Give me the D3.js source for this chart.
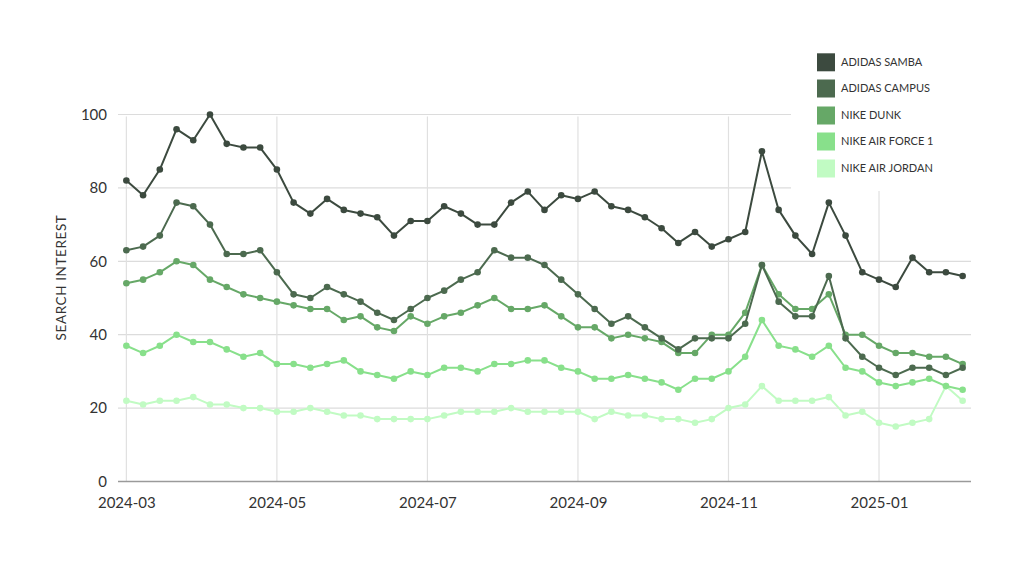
<!DOCTYPE html>
<html>
<head>
<meta charset="utf-8">
<script src="https://cdn.jsdelivr.net/npm/d3@7"></script>
<style>
  html, body { margin: 0; padding: 0; background: #fff; }
  svg { display: block; font-family: Lato, "Open Sans", sans-serif; }
</style>
</head>
<body>
<svg id="chart" width="1024" height="576"></svg>
<script>
const dates = ["2024-03-03","2024-03-10","2024-03-17","2024-03-24","2024-03-31","2024-04-07","2024-04-14","2024-04-21","2024-04-28",
  "2024-05-05","2024-05-12","2024-05-19","2024-05-26","2024-06-02","2024-06-09","2024-06-16","2024-06-23","2024-06-30",
  "2024-07-07","2024-07-14","2024-07-21","2024-07-28","2024-08-04","2024-08-11","2024-08-18","2024-08-25","2024-09-01",
  "2024-09-08","2024-09-15","2024-09-22","2024-09-29","2024-10-06","2024-10-13","2024-10-20","2024-10-27","2024-11-03",
  "2024-11-10","2024-11-17","2024-11-24","2024-12-01","2024-12-08","2024-12-15","2024-12-22","2024-12-29","2025-01-05",
  "2025-01-12","2025-01-19","2025-01-26","2025-02-02","2025-02-09","2025-02-16"];

const seriesNames = ["ADIDAS SAMBA","ADIDAS CAMPUS","NIKE DUNK","NIKE AIR FORCE 1","NIKE AIR JORDAN"];
const seriesColors = ["#3c4a3f","#4c6a4f","#66a867","#88e08b","#c1fbc3"];

const adidasSamba = [82,78,85,96,93,100,92,91,91,85,76,73,77,74,73,72,67,71,71,75,73,70,70,76,79,74,78,77,79,75,74,72,69,65,68,64,66,68,90,74,67,62,76,67,57,55,53,61,57,57,56];
const adidasCampus = [63,64,67,76,75,70,62,62,63,57,51,50,53,51,49,46,44,47,50,52,55,57,63,61,61,59,55,51,47,43,45,42,39,36,39,39,39,43,59,49,45,45,56,39,34,31,29,31,31,29,31];
const nikeDunk = [54,55,57,60,59,55,53,51,50,49,48,47,47,44,45,42,41,45,43,45,46,48,50,47,47,48,45,42,42,39,40,39,38,35,35,40,40,46,59,51,47,47,51,40,40,37,35,35,34,34,32];
const nikeAirForce1 = [37,35,37,40,38,38,36,34,35,32,32,31,32,33,30,29,28,30,29,31,31,30,32,32,33,33,31,30,28,28,29,28,27,25,28,28,30,34,44,37,36,34,37,31,30,27,26,27,28,26,25];
const nikeAirJordan = [22,21,22,22,23,21,21,20,20,19,19,20,19,18,18,17,17,17,17,18,19,19,19,20,19,19,19,19,17,19,18,18,17,17,16,17,20,21,26,22,22,22,23,18,19,16,15,16,17,26,22];

const seriesValues = [adidasSamba, adidasCampus, nikeDunk, nikeAirForce1, nikeAirJordan];
const xTickDates = ["2024-03-03","2024-05-05","2024-07-07","2024-09-08","2024-11-10","2025-01-12"];
const xTickLabels = ["2024-03","2024-05","2024-07","2024-09","2024-11","2025-01"];
const yTicks = [0,20,40,60,80,100];
const yTitle = "SEARCH INTEREST";

(function () {
const svg = d3.select("#chart");
const pLeft = 118, pRight = 971, pTop = 114.5, pBottom = 481.5;

const x = d3.scalePoint().domain(dates).range([pLeft, pRight]).padding(0.5);
const y = d3.scaleLinear().domain([0, 100]).range([pBottom, pTop]);

// horizontal grid
svg.append("g").selectAll("line").data(yTicks.filter(d => d > 0)).join("line")
  .attr("x1", pLeft).attr("x2", pRight)
  .attr("y1", d => y(d)).attr("y2", d => y(d))
  .attr("stroke", "#dcdcdc").attr("stroke-width", 1.2);

// vertical grid
svg.append("g").selectAll("line").data(xTickDates).join("line")
  .attr("x1", d => x(d)).attr("x2", d => x(d))
  .attr("y1", y(100) + 2).attr("y2", pBottom)
  .attr("stroke", "#e0e0e0").attr("stroke-width", 1.2);

// baseline
svg.append("line").attr("x1", pLeft).attr("x2", pRight).attr("y1", y(0)).attr("y2", y(0))
  .attr("stroke", "#9a9a9a").attr("stroke-width", 1.5);

// y labels
const yAxis = d3.axisLeft(y).tickValues(yTicks).tickSize(0).tickPadding(0);
const gy = svg.append("g").attr("transform", "translate(107,0)").call(yAxis);
gy.select(".domain").remove();
gy.selectAll("text").attr("font-size", 15).attr("fill", "#333").attr("font-family", "Lato, sans-serif");

// x labels
const xAxis = d3.axisBottom(x).tickValues(xTickDates).tickSize(0).tickPadding(0)
  .tickFormat((d, i) => xTickLabels[i]);
const gx = svg.append("g").attr("transform", `translate(0,${pBottom + 16})`).call(xAxis);
gx.select(".domain").remove();
gx.selectAll("text").attr("font-size", 15).attr("fill", "#333").attr("font-family", "Lato, sans-serif");

// y title
svg.append("text").attr("transform", "translate(66,277.5) rotate(-90)")
  .attr("text-anchor", "middle").attr("font-size", 13.5).attr("fill", "#333")
  .attr("letter-spacing", 0.6).text(yTitle);

// lines
const line = d3.line().x((d, i) => x(dates[i])).y(d => y(d));
const order = [4, 3, 2, 1, 0];
order.forEach(k => {
  const g = svg.append("g");
  g.append("path").datum(seriesValues[k]).attr("d", line)
    .attr("fill", "none").attr("stroke", seriesColors[k]).attr("stroke-width", 2)
    .attr("stroke-linejoin", "round");
  g.selectAll("circle").data(seriesValues[k]).join("circle")
    .attr("cx", (d, i) => x(dates[i])).attr("cy", d => y(d)).attr("r", 3.3)
    .attr("fill", seriesColors[k]);
});

// legend
const lg = svg.append("g");
lg.append("rect").attr("x", 791).attr("y", 40).attr("width", 190).attr("height", 151).attr("fill", "#fff");
const legendY = [53.3, 79.5, 106.5, 132.5, 159.5];
seriesNames.forEach((n, i) => {
  lg.append("rect").attr("x", 817).attr("y", legendY[i]).attr("width", 18).attr("height", 18)
    .attr("fill", seriesColors[i]);
  lg.append("text").attr("x", 841).attr("y", legendY[i] + 9).attr("dy", "0.35em")
    .attr("font-size", 11).attr("fill", "#333").text(n);
});
})();
</script>
</body>
</html>
